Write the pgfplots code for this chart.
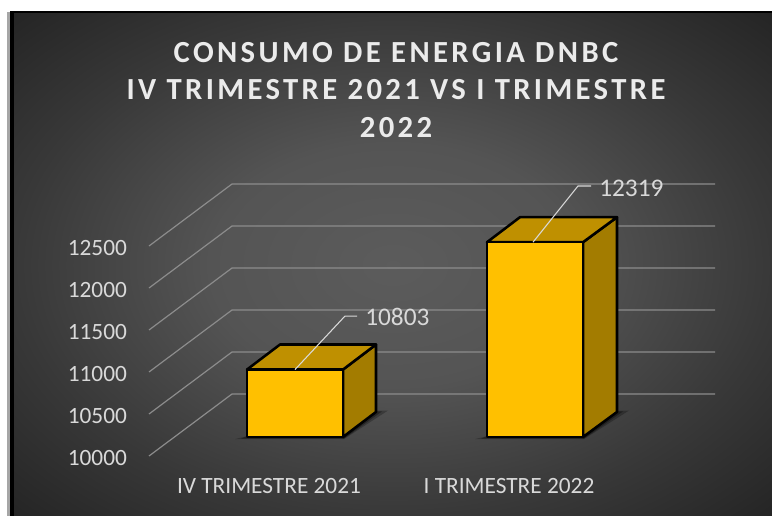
\documentclass[border=0pt]{standalone}
\usepackage{pgfplots}
\pgfplotsset{compat=1.18}
\usepackage{fontspec}
\setmainfont{Carlito}
\newfontfamily\titlefont[LetterSpace=11]{Carlito}
\definecolor{lbl}{HTML}{D9D9D9}
\definecolor{gridc}{HTML}{8C8C8C}
\definecolor{barfront}{HTML}{FFC000}
\definecolor{bartop}{HTML}{BF9000}
\definecolor{barside}{HTML}{A37C00}
\pgfdeclareradialshading{bgshade}{\pgfpoint{0bp}{0bp}}{%
 color(0bp)=(rgb:black,0.64;white,0.36);
 color(12bp)=(rgb:black,0.67;white,0.33);
 color(25bp)=(rgb:black,0.78;white,0.22);
 color(36bp)=(rgb:black,0.86;white,0.14);
 color(50bp)=(rgb:black,0.86;white,0.14)}
\begin{document}
\begin{tikzpicture}[x=0.75pt,y=-0.75pt]
% page, in pixels of the reference
\path[use as bounding box,fill=white] (0,0) rectangle (772,516);
\fill[black!35] (7,12) rectangle (10,516);
\fill[black] (10,11) rectangle (772,516);
\shade[shading=bgshade] (14,14) rectangle (772,516);
\begin{axis}[
  at={(111.75pt,-342pt)},anchor=south west,
  scale only axis,width=424.5pt,height=204pt,
  xmin=149,xmax=715,ymin=10000,ymax=13238.1,
  clip=false,
  axis line style={draw=none},
  tick style={draw=none},
  major tick length=0pt,
  ytick={10000,10500,11000,11500,12000,12500},
  scaled y ticks=false,
  yticklabel style={/pgf/number format/fixed,/pgf/number format/precision=0},
  xtick={269,509},
  xticklabels={IV TRIMESTRE 2021,I TRIMESTRE 2022},
  /pgf/number format/assume math mode=true,
  /pgf/number format/set thousands separator={},
  yticklabel style={text=lbl,font=\fontsize{17.5}{20}\selectfont,xshift=-13pt,yshift=-1.5pt},
  xticklabel style={text=lbl,font=\fontsize{17.5}{20}\selectfont,yshift=-13pt},
  title={CONSUMO DE ENERGIA DNBC\\IV TRIMESTRE 2021 VS I TRIMESTRE\\2022},
  title style={at={(axis description cs:0.4364,1.3162)},anchor=center,align=center,
    text=white!92!black,font=\titlefont\bfseries\fontsize{23}{28}\selectfont},
]
% receding gridlines
\addplot[gridc,line width=.9pt] coordinates {(149,10000)(232,10738)(715,10738)};
\addplot[gridc,line width=.9pt] coordinates {(149,10500)(232,11238)(715,11238)};
\addplot[gridc,line width=.9pt] coordinates {(149,11000)(232,11738)(715,11738)};
\addplot[gridc,line width=.9pt] coordinates {(149,11500)(232,12238)(715,12238)};
\addplot[gridc,line width=.9pt] coordinates {(149,12000)(232,12738)(715,12738)};
\addplot[gridc,line width=.9pt] coordinates {(149,12500)(232,13238)(715,13238)};
% floor shadows
\addplot[fill=black,draw=none,opacity=.25,yshift=14.25pt] coordinates {(235,9975)(344,9975)(388,10315)(376,10315)(247,10010)} --cycle;
\addplot[fill=black,draw=none,opacity=.35,yshift=14.25pt] coordinates {(241,9980)(344,9980)(382,10305)(376,10305)(247,10010)} --cycle;
\addplot[fill=black,draw=none,opacity=.25,yshift=14.25pt] coordinates {(475,9975)(584,9975)(629,10315)(617,10315)(487,10010)} --cycle;
\addplot[fill=black,draw=none,opacity=.35,yshift=14.25pt] coordinates {(481,9980)(584,9980)(623,10305)(617,10305)(487,10010)} --cycle;
% first column
\addplot[fill=barside,draw=black,line width=1.9pt,line join=round,yshift=14.25pt] coordinates {(343,10000)(376,10298)(376,11101)(343,10803)} --cycle;
\addplot[fill=bartop,draw=black,line width=1.9pt,line join=round,yshift=14.25pt] coordinates {(247,10803)(343,10803)(376,11101)(280,11101)} --cycle;
\addplot[fill=barfront,draw=black,line width=1.9pt,line join=round,yshift=14.25pt] coordinates {(247,10000)(343,10000)(343,10803)(247,10803)} --cycle;
% second column
\addplot[fill=barside,draw=black,line width=1.9pt,line join=round,yshift=14.25pt] coordinates {(583,10000)(617,10298)(617,12617)(583,12319)} --cycle;
\addplot[fill=bartop,draw=black,line width=1.9pt,line join=round,yshift=14.25pt] coordinates {(487,12319)(583,12319)(617,12617)(520,12617)} --cycle;
\addplot[fill=barfront,draw=black,line width=1.9pt,line join=round,yshift=14.25pt] coordinates {(487,10000)(583,10000)(583,12319)(487,12319)} --cycle;
% leaders
\addplot[lbl,line width=.8pt,yshift=14.25pt] coordinates {(295,10803)(345,11440)(357,11440)};
\addplot[lbl,line width=.8pt,yshift=14.25pt] coordinates {(533,12319)(578,12988)(591,12988)};
\node[text=lbl,anchor=west,inner sep=0pt,font=\fontsize{19}{22}\selectfont,yshift=14.25pt] at (axis cs:365,11428) {10803};
\node[text=lbl,anchor=west,inner sep=0pt,font=\fontsize{19}{22}\selectfont,yshift=14.25pt] at (axis cs:599,12964) {12319};
\end{axis}
\end{tikzpicture}
\end{document}
